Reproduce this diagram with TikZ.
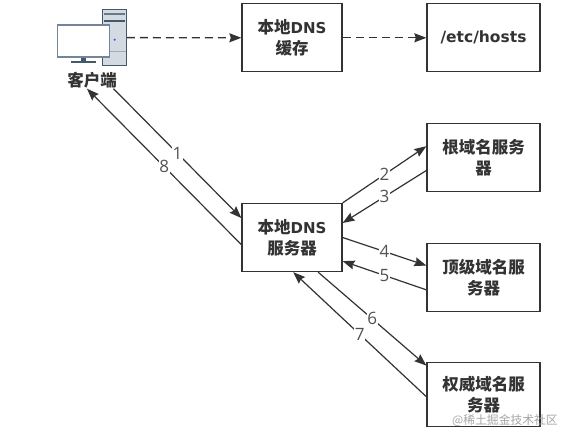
\documentclass[tikz,border=0pt]{standalone}
\usepackage{fontspec}
\setmainfont{DejaVu Sans}
\newfontfamily\cjkfont{Noto Sans CJK SC}
\newfontfamily\numfont{Open Sans}
\newfontfamily\latinfont{DejaVu Sans}
\usetikzlibrary{positioning,arrows.meta}
\definecolor{boxgray}{HTML}{333333}
\definecolor{towerfill}{HTML}{D3DAE1}
\definecolor{towerline}{HTML}{44586C}
\definecolor{screenline}{HTML}{73859A}

\begin{document}
\begin{tikzpicture}[
      x=1pt, y=-1pt,
      server/.style={rectangle, draw=boxgray, line width=1.3pt, fill=white,
        minimum width=113pt, minimum height=68pt, inner sep=0pt,
        align=center, text=boxgray, font=\fontsize{16.5}{21}\selectfont\bfseries\cjkfont},
      resolver/.style={server, minimum width=100pt},
      num/.style={fill=white, inner sep=0.5pt, text=boxgray!85, font=\fontsize{17}{17}\selectfont\numfont},
      tower/.style={rectangle, draw=towerline, line width=1.2pt, fill=towerfill,
        minimum width=24pt, minimum height=56pt, inner sep=0pt},
      arr/.style={-{Stealth[length=12pt,width=9pt,inset=1.5pt]}, line width=1.2pt, color=boxgray},
      dasharr/.style={arr, line width=1.3pt, dash pattern=on 8pt off 5pt}
    ]
      \useasboundingbox[fill=white] (0,0) rectangle (572,442);
      % computer
      \node[tower] (pc) at (114.2,37.6) {};
      \fill[towerline!80] (104,13) rectangle (125,14.5);
      \fill[towerline] (104,19.5) rectangle (125,22);
      \draw[towerline!50] (102,51) -- (126,51);
      \fill[blue!70!white] (114.7,39.7) circle (1.2);
      \fill[towerline] (81,57) rectangle (86,61);
      \fill[towerline] (71,61) rectangle (96,62.5);
      \node[rectangle, draw=screenline, line width=1.2pt, fill=white,
        minimum width=52pt, minimum height=32pt, inner sep=0pt] (screen) at (83.6,41) {};
      \node[inner sep=0pt, minimum width=50pt, minimum height=17pt, text=boxgray,
        font=\fontsize{16.5}{16.5}\selectfont\bfseries\cjkfont] (client) at (92,80) {客户端};

      \node[resolver] (cache) at (292,37.8) {本地{\fontsize{15}{21}\selectfont\latinfont DNS}\\缓存};
      \node[server] (hosts) at (483.5,37.8) {\fontsize{15.5}{21}\selectfont\latinfont /etc/hosts};
      \node[resolver] (dns) at (292,237.5) {本地{\fontsize{15}{21}\selectfont\latinfont DNS}\\服务器};
      \node[server] (root) at (483.5,157.3) {根域名服务\\器};
      \node[server] (top) at (483.5,277.7) {顶级域名服\\务器};
      \node[server, minimum height=64pt] (auth) at (483.5,394.7) {权威域名服\\务器};

      \draw[dasharr] (pc.east) -- (cache.west);
      \draw[dasharr] (cache.east) -- (hosts.west);
      \draw[arr] (client.-22) -- (dns.159.7) node[num, midway] (n1) {1};
      \draw[arr] (dns.188.5) -- (client.-120) node[num, midway] (n8) {8};
      \draw[arr] (dns.north east) -- (root.169) node[num, midway] (n2) {2};
      \draw[arr] (root.193) -- (dns.16.2) node[num, midway] (n3) {3};
      \draw[arr] (dns.0) -- (top.168.5) node[num, midway] (n4) {4};
      \draw[arr] (top.192.5) -- (dns.-25.2) node[num, midway] (n5) {5};
      \draw[arr] (dns.-53) -- (auth.153) node[num, midway] (n6) {6};
      \draw[arr] (auth.182) -- (dns.-88) node[num, midway] (n7) {7};

      \node[text=black!35, inner sep=0pt, font=\fontsize{11.8}{11.8}\selectfont\cjkfont]
        (mark) at (505,421) {@稀土掘金技术社区};
    \end{tikzpicture}
\end{document}
